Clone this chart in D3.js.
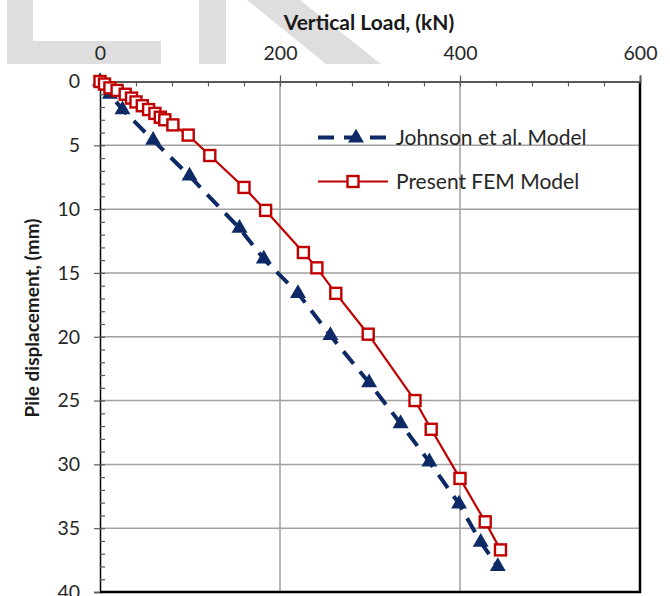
<!DOCTYPE html>
<html lang="en">
<head>
    <meta charset="UTF-8">
    <title>Pile load-displacement</title>
    <style>
        body { margin: 0; background: #fff; }
        svg text { font-family: Lato, "Open Sans", sans-serif; }
    </style>
</head>
<body>
    <div id="chart"></div>
    <script src="https://cdnjs.cloudflare.com/ajax/libs/d3/7.8.5/d3.min.js"></script>
    <script>
        // values (load in kN, displacement in mm)
        const johnsonLoad = [0, 11, 25, 59, 99.5, 155, 182, 220, 256, 299, 334, 366, 399, 423, 442];
        const johnsonDisp = [0, 1.0, 2.2, 4.6, 7.4, 11.5, 13.9, 16.6, 19.9, 23.6, 26.8, 29.8, 33.1, 36.1, 38.0];

        const femLoad = [0, 5, 11, 19, 28, 35, 40, 47, 54, 61, 67, 72, 81, 98, 122, 160, 184, 226, 241, 262, 298, 350, 368, 400, 428, 445];
        const femDisp = [0, 0.2, 0.5, 0.7, 1.0, 1.3, 1.6, 1.9, 2.2, 2.5, 2.8, 3.0, 3.4, 4.2, 5.8, 8.3, 10.1, 13.4, 14.6, 16.6, 19.8, 25.0, 27.25, 31.1, 34.5, 36.7];

        const xTicks = [0, 200, 400, 600];
        const yTicks = [0, 5, 10, 15, 20, 25, 30, 35, 40];
        const seriesNames = ["Johnson et al. Model", "Present FEM Model"];

        const W = 670, H = 596;
        const margin = { top: 81.5, right: 30, bottom: 4, left: 100 };
        const navy = "#0d2a66", red = "#c00000", grid = "#a0a0a0";

        const svg = d3.select("#chart").append("svg")
            .attr("width", W).attr("height", H);

        // light watermark in the background
        const wm = svg.append("g").attr("fill", "#dedede");
        wm.append("rect").attr("x", 7).attr("y", 0).attr("width", 26).attr("height", 64);
        wm.append("rect").attr("x", 7).attr("y", 41).attr("width", 154).attr("height", 23);
        wm.append("rect").attr("x", 199).attr("y", 0).attr("width", 27).attr("height", 64);
        wm.append("polygon").attr("points", "247,0 300,0 381,64 326,64");

        const x = d3.scaleLinear().domain([0, 600]).range([margin.left, W - margin.right]);
        const y = d3.scaleLinear().domain([0, 40]).range([margin.top, H - margin.bottom]);

        // gridlines
        svg.append("g").selectAll("line")
            .data(yTicks.slice(1, -1)).join("line")
            .attr("x1", x(0)).attr("x2", x(600))
            .attr("y1", d => y(d)).attr("y2", d => y(d))
            .attr("stroke", grid).attr("stroke-width", 1.5);
        svg.append("g").selectAll("line")
            .data(xTicks.slice(1, -1)).join("line")
            .attr("y1", y(0)).attr("y2", y(40))
            .attr("x1", d => x(d)).attr("x2", d => x(d))
            .attr("stroke", grid).attr("stroke-width", 1.5);

        // frame: right and bottom
        svg.append("path")
            .attr("d", `M${x(600)},${y(0)}V${y(40)}H${x(0)}`)
            .attr("fill", "none").attr("stroke", "#000").attr("stroke-width", 2.5);

        // top axis
        const topAxis = svg.append("g")
            .attr("transform", `translate(0,${y(0)})`)
            .call(d3.axisTop(x).tickValues(xTicks).tickSize(6).tickPadding(16));
        svg.append("g")
            .attr("transform", `translate(0,${y(0)})`)
            .call(d3.axisBottom(x).tickValues(d3.range(40, 600, 40)).tickSize(5).tickFormat(""))
            .call(g => g.select(".domain").remove());
        topAxis.select(".domain").attr("stroke", "#595959").attr("stroke-width", 2);

        // left axis
        const leftAxis = svg.append("g")
            .attr("transform", `translate(${x(0)},0)`)
            .call(d3.axisLeft(y).tickValues(yTicks).tickSize(6).tickPadding(14));
        svg.append("g")
            .attr("transform", `translate(${x(0)},0)`)
            .call(d3.axisRight(y).tickValues(d3.range(1, 40)).tickSize(5).tickFormat(""))
            .call(g => g.select(".domain").remove());
        leftAxis.select(".domain").attr("stroke", "#000").attr("stroke-width", 1.5);

        svg.selectAll(".tick line").attr("stroke", "#595959").attr("stroke-width", 1.2);
        svg.selectAll(".tick text").attr("font-size", 19.5).attr("fill", "#262626")
            .attr("font-family", "Lato, sans-serif");

        // axis titles
        svg.append("text")
            .attr("x", 369).attr("y", 30)
            .attr("text-anchor", "middle")
            .attr("font-size", 21).attr("font-weight", "bold").attr("fill", "#1a1a1a")
            .text("Vertical Load, (kN)");
        svg.append("text")
            .attr("transform", "translate(39,318) rotate(-90)")
            .attr("text-anchor", "middle")
            .attr("font-size", 19).attr("font-weight", "bold").attr("fill", "#1a1a1a")
            .text("Pile displacement, (mm)");

        const johnson = johnsonLoad.map((v, i) => [v, johnsonDisp[i]]);
        const fem = femLoad.map((v, i) => [v, femDisp[i]]);
        const line = d3.line().x(d => x(d[0])).y(d => y(d[1]));
        const tri = d3.symbol(d3.symbolTriangle, 110);

        // Johnson series
        svg.append("path").datum(johnson)
            .attr("d", line)
            .attr("fill", "none").attr("stroke", navy)
            .attr("stroke-width", 4).attr("stroke-dasharray", "16,10");
        svg.append("g").selectAll("path")
            .data(johnson).join("path")
            .attr("d", tri)
            .attr("transform", d => `translate(${x(d[0])},${y(d[1])})`)
            .attr("fill", navy);

        // FEM series
        svg.append("path").datum(fem)
            .attr("d", line)
            .attr("fill", "none").attr("stroke", red).attr("stroke-width", 2.2);
        svg.append("g").selectAll("rect")
            .data(fem).join("rect")
            .attr("x", d => x(d[0]) - 5.5).attr("y", d => y(d[1]) - 5.5)
            .attr("width", 11).attr("height", 11)
            .attr("fill", "#fff").attr("stroke", red).attr("stroke-width", 2.4);

        // legend
        const lg = svg.append("g");
        lg.append("line").attr("x1", 318).attr("x2", 388).attr("y1", 137.5).attr("y2", 137.5)
            .attr("stroke", navy).attr("stroke-width", 4).attr("stroke-dasharray", "16,10");
        lg.append("path").attr("d", tri).attr("transform", "translate(356,138)").attr("fill", navy);
        lg.append("line").attr("x1", 318).attr("x2", 388).attr("y1", 181.5).attr("y2", 181.5)
            .attr("stroke", red).attr("stroke-width", 2.2);
        lg.append("rect").attr("x", 347.5).attr("y", 176).attr("width", 11).attr("height", 11)
            .attr("fill", "#fff").attr("stroke", red).attr("stroke-width", 2.4);
        lg.selectAll("text").data(seriesNames).join("text")
            .attr("x", 396).attr("y", (d, i) => 145 + i * 44)
            .attr("font-size", 21).attr("fill", "#262626")
            .text(d => d);
    </script>
</body>
</html>
